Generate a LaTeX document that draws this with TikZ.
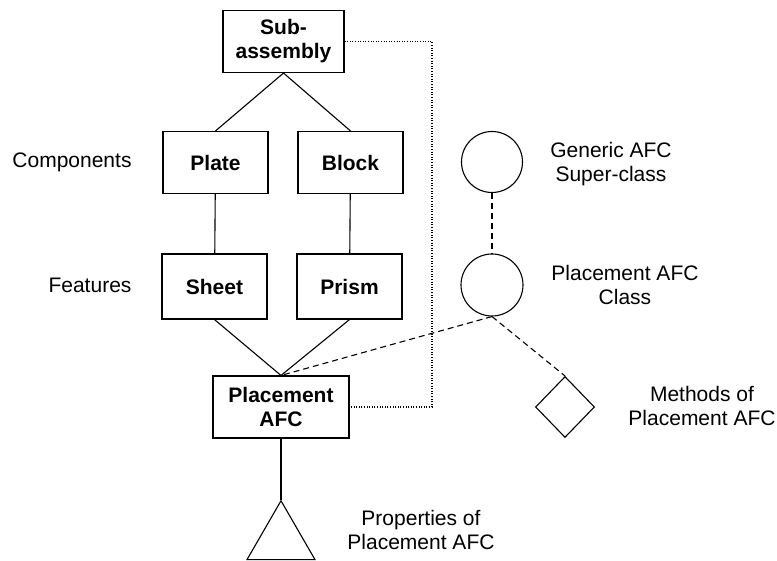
\documentclass[tikz,border=0pt]{standalone}
\usepackage{fontspec}
\setmainfont{Liberation Sans}
\usetikzlibrary{shapes.geometric}
\tikzset{
  box/.style={draw, rectangle, line width=1.1pt, minimum width=105pt, minimum height=62pt, inner sep=0pt, align=center, font=\fontsize{21}{24}\selectfont\bfseries},
  lbl/.style={align=center, font=\fontsize{21}{24}\selectfont},
  sym/.style={draw, line width=1.1pt, inner sep=0pt},
  dsh/.style={line width=1.1pt, dash pattern=on 6pt off 4pt},
  dot/.style={line width=1.1pt, dash pattern=on 1pt off 1.6pt}
}
\begin{document}
\begin{tikzpicture}[x=1pt, y=-1pt, line width=1.1pt]
      \useasboundingbox (0,0) rectangle (777,561);
      \node[box, minimum width=121pt] (sub) at (283.5,41.5){Sub-\\assembly};
      \node[box] (plate) at (215.5,162.5){Plate};
      \node[box] (block) at (350.5,162.5){Block};
      \node[box, minimum height=65pt] (sheet) at (214.5,286.5){Sheet};
      \node[box, minimum height=65pt] (prism) at (349.5,286.5){Prism};
      \node[box, minimum width=136pt] (pafc) at (281,407){Placement\\AFC};
      \node[sym, regular polygon, regular polygon sides=3, minimum size=78.5pt] (tri) at (281,540){};
      \node[sym, circle, minimum size=61pt] (circ1) at (492,162){};
      \node[sym, circle, minimum size=62pt] (circ2) at (492,285){};
      \node[sym, diamond, minimum width=59pt, minimum height=61pt] (dia) at (565,407){};
      \coordinate (bend) at (432,407);

      \node[lbl] (comp) at (72,162){Components};
      \node[lbl] (feat) at (90,285){Features};
      \node[lbl] (gen) at (611,164){Generic AFC\\Super-class};
      \node[lbl] (cls) at (625,285){Placement AFC\\Class};
      \node[lbl] (meth) at (702,406){Methods of\\Placement AFC};
      \node[lbl] (prop) at (421,530){Properties of\\Placement AFC};

      \draw[](sub.south) -- (plate.north);
      \draw[](sub.south) -- (block.north);
      \draw[](plate) -- (sheet);
      \draw[](block) -- (prism);
      \draw[](sheet.south) -- (pafc.north);
      \draw[](prism.south) -- (pafc.north);
      \draw[](pafc.south) -- (tri.corner 1);
      \draw[dsh](circ1) -- (circ2);
      \draw[dsh](circ2.south) -- (pafc.north);
      \draw[dsh](circ2.south) -- (dia.north);
      \draw[dot](sub.east) -| (bend) |- (pafc.east);

    \end{tikzpicture}
\end{document}
